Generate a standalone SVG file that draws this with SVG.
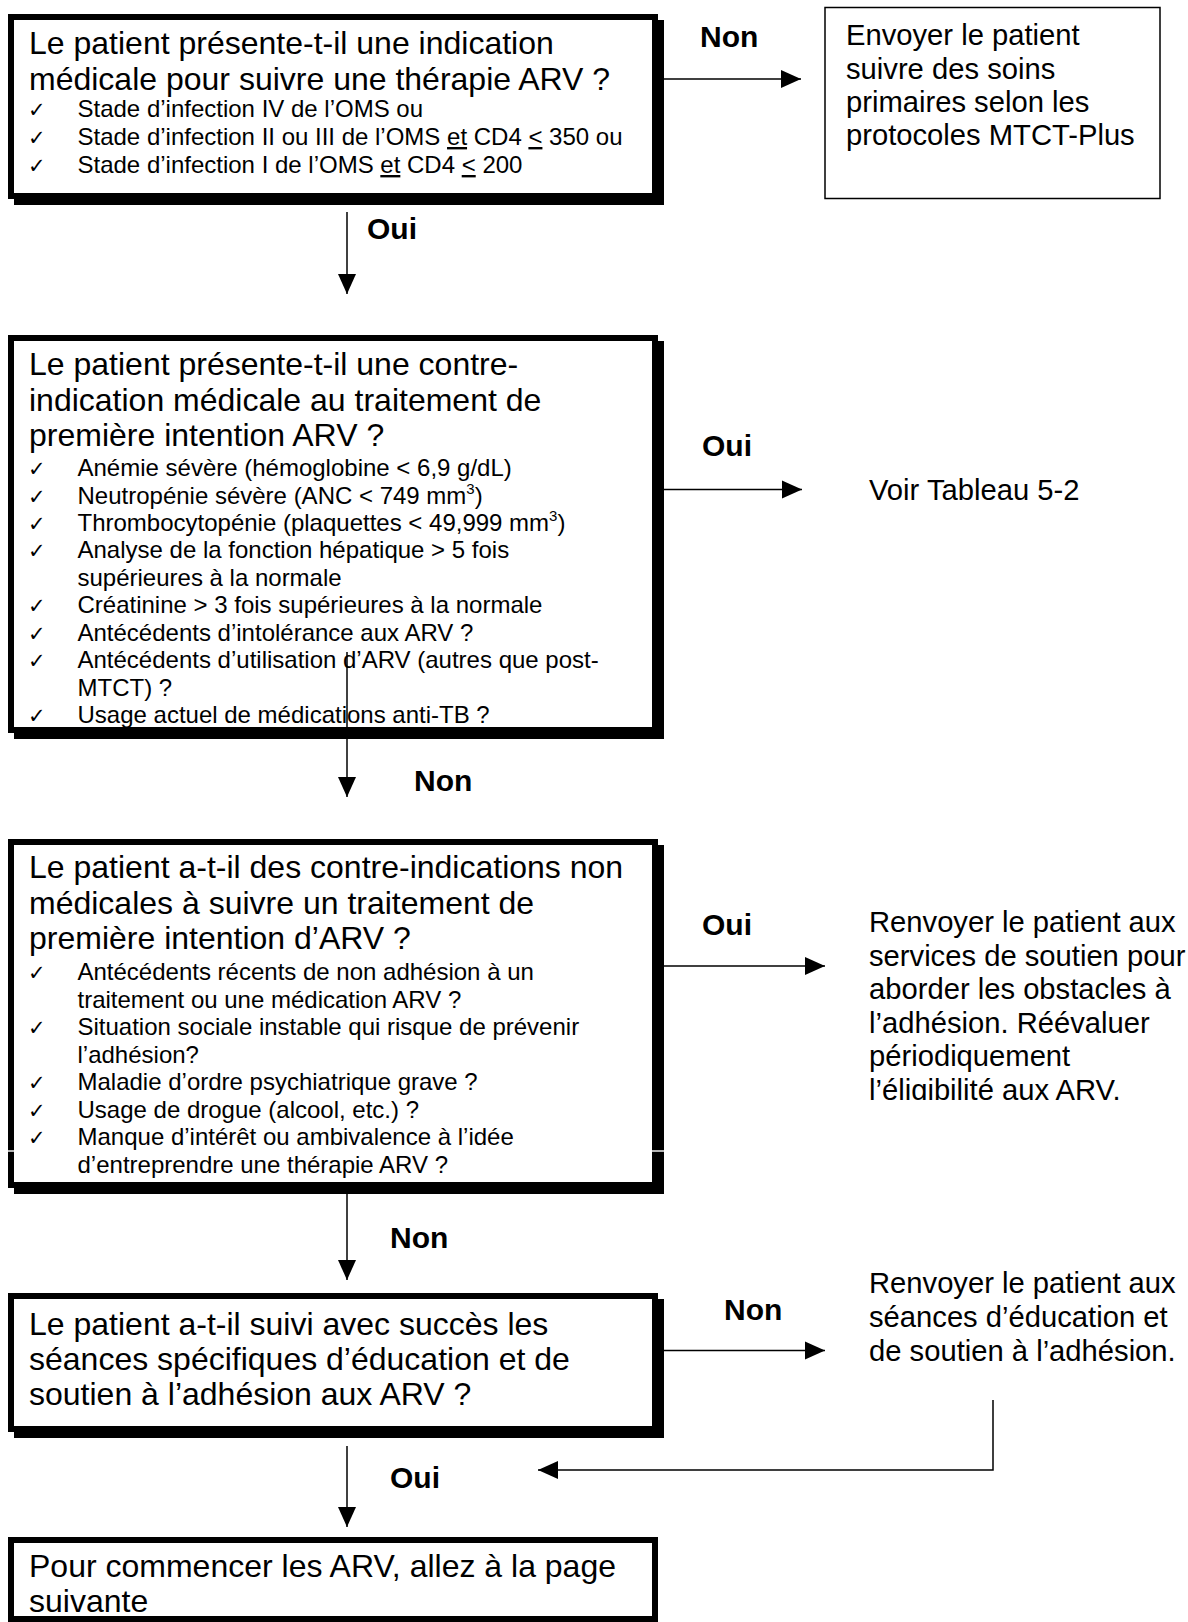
<svg xmlns="http://www.w3.org/2000/svg" width="1188" height="1622" viewBox="0 0 1188 1622">
<defs>
<style>
text{font-family:"Liberation Sans",Arial,Helvetica,sans-serif;fill:#000}
.t{font-size:32px}
.b{font-size:24px}
.r{font-size:29.2px}
.l{font-size:30px;font-weight:bold}
.ck{font-family:"DejaVu Sans",sans-serif;font-size:21px}
.u{text-decoration:underline}
.box{fill:#fff;stroke:#000;stroke-width:6}
.sh{fill:#000}
.ln{fill:none;stroke:#000;stroke-width:1.5}
.thin{fill:#fff;stroke:#000;stroke-width:1.5}
</style>
<marker id="ah" markerUnits="userSpaceOnUse" markerWidth="20" markerHeight="18" refX="20" refY="9" orient="auto" overflow="visible">
<path d="M0,0 L20,9 L0,18 Z" fill="#000"/>
</marker>
<clipPath id="clipR3"><rect x="840" y="880" width="348" height="220"/></clipPath>
</defs>
<rect width="1188" height="1622" fill="#fff"/>

<g id="n1">
<rect class="sh" x="14" y="20" width="650" height="185"/>
<rect class="box" x="11" y="17" width="644" height="179"/>
<text class="t" x="29" y="54">Le patient présente-t-il une indication</text>
<text class="t" x="29" y="90">médicale pour suivre une thérapie ARV ?</text>
<text class="ck" x="28" y="117">✓</text><text class="b" x="77.5" y="117">Stade d’infection IV de l’OMS ou</text>
<text class="ck" x="28" y="145">✓</text><text class="b" x="77.5" y="145">Stade d’infection II ou III de l’OMS <tspan class="u">et</tspan> CD4 <tspan class="u">&lt;</tspan> 350 ou</text>
<text class="ck" x="28" y="173">✓</text><text class="b" x="77.5" y="173">Stade d’infection I de l’OMS <tspan class="u">et</tspan> CD4 <tspan class="u">&lt;</tspan> 200</text>
</g>

<g id="n1r">
<rect class="thin" x="825" y="7.5" width="335" height="191"/>
<text class="r" x="846" y="45">Envoyer le patient</text>
<text class="r" x="846" y="79">suivre des soins</text>
<text class="r" x="846" y="112">primaires selon les</text>
<text class="r" x="846" y="145">protocoles MTCT-Plus</text>
</g>

<g id="n2">
<rect class="sh" x="14" y="341" width="650" height="398"/>
<rect class="box" x="11" y="338" width="644" height="392"/>
<text class="t" x="29" y="375">Le patient présente-t-il une contre-</text>
<text class="t" x="29" y="410.5">indication médicale au traitement de</text>
<text class="t" x="29" y="446">première intention ARV ?</text>
<text class="ck" x="28" y="476">✓</text><text class="b" x="77.5" y="476">Anémie sévère (hémoglobine &lt; 6,9 g/dL)</text>
<text class="ck" x="28" y="503.5">✓</text><text class="b" x="77.5" y="503.5">Neutropénie sévère (ANC &lt; 749 mm<tspan font-size="15" dy="-10">3</tspan><tspan dy="10">)</tspan></text>
<text class="ck" x="28" y="531">✓</text><text class="b" x="77.5" y="531">Thrombocytopénie (plaquettes &lt; 49,999 mm<tspan font-size="15" dy="-10">3</tspan><tspan dy="10">)</tspan></text>
<text class="ck" x="28" y="558.4">✓</text><text class="b" x="77.5" y="558.4">Analyse de la fonction hépatique &gt; 5 fois</text>
<text class="b" x="77.5" y="585.8">supérieures à la normale</text>
<text class="ck" x="28" y="613.3">✓</text><text class="b" x="77.5" y="613.3">Créatinine &gt; 3 fois supérieures à la normale</text>
<text class="ck" x="28" y="640.7">✓</text><text class="b" x="77.5" y="640.7">Antécédents d’intolérance aux ARV ?</text>
<text class="ck" x="28" y="668.2">✓</text><text class="b" x="77.5" y="668.2">Antécédents d’utilisation d’ARV (autres que post-</text>
<text class="b" x="77.5" y="695.6">MTCT) ?</text>
<text class="ck" x="28" y="723">✓</text><text class="b" x="77.5" y="723">Usage actuel de médications anti-TB ?</text>
</g>

<g id="n2r">
<text class="r" x="869" y="500">Voir Tableau 5-2</text>
</g>

<g id="n3">
<rect class="sh" x="14" y="845" width="650" height="349"/>
<rect class="box" x="11" y="842" width="644" height="343"/>
<text class="t" x="29" y="878">Le patient a-t-il des contre-indications non</text>
<text class="t" x="29" y="914">médicales à suivre un traitement de</text>
<text class="t" x="29" y="949">première intention d’ARV ?</text>
<text class="ck" x="28" y="980">✓</text><text class="b" x="77.5" y="980">Antécédents récents de non adhésion à un</text>
<text class="b" x="77.5" y="1007.5">traitement ou une médication ARV ?</text>
<text class="ck" x="28" y="1035">✓</text><text class="b" x="77.5" y="1035">Situation sociale instable qui risque de prévenir</text>
<text class="b" x="77.5" y="1062.5">l’adhésion?</text>
<text class="ck" x="28" y="1090">✓</text><text class="b" x="77.5" y="1090">Maladie d’ordre psychiatrique grave ?</text>
<text class="ck" x="28" y="1117.5">✓</text><text class="b" x="77.5" y="1117.5">Usage de drogue (alcool, etc.) ?</text>
<text class="ck" x="28" y="1145">✓</text><text class="b" x="77.5" y="1145">Manque d’intérêt ou ambivalence à l’idée</text>
<text class="b" x="77.5" y="1172.5">d’entreprendre une thérapie ARV ?</text>
<rect x="5" y="1150.3" width="11" height="1.4" fill="#fff"/>
<rect x="650" y="1150.3" width="16" height="1.4" fill="#fff"/>
</g>

<g id="n3r" clip-path="url(#clipR3)">
<text class="r" x="869" y="932">Renvoyer le patient aux</text>
<text class="r" x="869" y="965.5">services de soutien pour</text>
<text class="r" x="869" y="999">aborder les obstacles à</text>
<text class="r" x="869" y="1032.5">l’adhésion. Réévaluer</text>
<text class="r" x="869" y="1066">périodiquement</text>
<text class="r" x="869" y="1099.5">l’éligibilité aux ARV.</text>
</g>

<g id="n4">
<rect class="sh" x="14" y="1299" width="650" height="139"/>
<rect class="box" x="11" y="1296" width="644" height="133"/>
<text class="t" x="29" y="1335">Le patient a-t-il suivi avec succès les</text>
<text class="t" x="29" y="1370">séances spécifiques d’éducation et de</text>
<text class="t" x="29" y="1405">soutien à l’adhésion aux ARV ?</text>
</g>

<g id="n4r">
<text class="r" x="869" y="1293">Renvoyer le patient aux</text>
<text class="r" x="869" y="1327">séances d’éducation et</text>
<text class="r" x="869" y="1360.5">de soutien à l’adhésion.</text>
</g>

<g id="n5">
<rect class="box" x="11" y="1540" width="644" height="79"/>
<text class="t" x="29" y="1577">Pour commencer les ARV, allez à la page</text>
<text class="t" x="29" y="1612">suivante</text>
</g>

<g id="connectors">
<line class="ln" x1="664" y1="79" x2="801" y2="79" marker-end="url(#ah)"/>
<text class="l" x="700" y="47">Non</text>
<line class="ln" x1="347" y1="212" x2="347" y2="294" marker-end="url(#ah)"/>
<text class="l" x="367" y="239">Oui</text>
<line class="ln" x1="664" y1="489.5" x2="802" y2="489.5" marker-end="url(#ah)"/>
<text class="l" x="702" y="456">Oui</text>
<line class="ln" x1="347" y1="652" x2="347" y2="797" marker-end="url(#ah)"/>
<text class="l" x="414" y="791">Non</text>
<line class="ln" x1="664" y1="966" x2="825" y2="966" marker-end="url(#ah)"/>
<text class="l" x="702" y="935">Oui</text>
<line class="ln" x1="347" y1="1194" x2="347" y2="1280" marker-end="url(#ah)"/>
<text class="l" x="390" y="1248">Non</text>
<line class="ln" x1="664" y1="1350.5" x2="825" y2="1350.5" marker-end="url(#ah)"/>
<text class="l" x="724" y="1320">Non</text>
<polyline class="ln" points="993,1400 993,1470 538,1470" marker-end="url(#ah)"/>
<line class="ln" x1="347" y1="1446" x2="347" y2="1527" marker-end="url(#ah)"/>
<text class="l" x="390" y="1488">Oui</text>
</g>
</svg>
